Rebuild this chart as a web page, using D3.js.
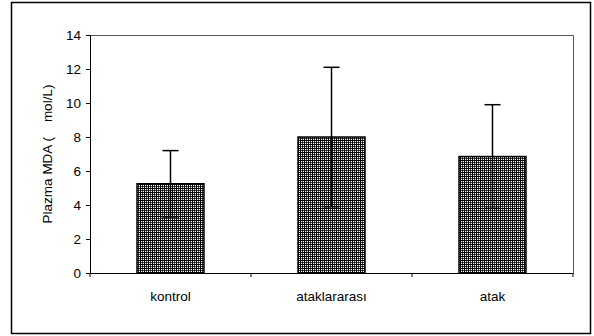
<!DOCTYPE html>
<html>
<head>
<meta charset="utf-8">
<script src="https://cdn.jsdelivr.net/npm/d3@7"></script>
<style>
    body { margin: 0; background: #fff; }
    svg { display: block; font-family: "Liberation Sans", Arial, sans-serif; }
</style>
</head>
<body>
<div id="chart"></div>
<script>
// Chart data
const categories = ['kontrol', 'ataklararası', 'atak'];
const means = [5.25, 8.0, 6.85];
const errors = [1.95, 4.1, 3.05];
const yTicks = [0, 2, 4, 6, 8, 10, 12, 14];

const width = 594;
const height = 336;
const margin = { top: 35, right: 21, bottom: 63, left: 90 };

const svg = d3.select('#chart')
    .append('svg')
    .attr('width', width)
    .attr('height', height);

// Fill pattern for bars
const defs = svg.append('defs');
const pat = defs.append('pattern')
    .attr('id', 'dots')
    .attr('width', 4)
    .attr('height', 4)
    .attr('patternUnits', 'userSpaceOnUse');
pat.append('rect').attr('width', 4).attr('height', 4).attr('fill', '#fff');
pat.append('rect').attr('x', 0).attr('y', 0).attr('width', 4).attr('height', 1).attr('fill', '#000');
pat.append('rect').attr('x', 0).attr('y', 0).attr('width', 1).attr('height', 4).attr('fill', '#000');
pat.append('rect').attr('x', 2).attr('y', 2).attr('width', 1).attr('height', 1).attr('fill', '#000');
[[2, 1], [1, 2], [3, 2], [2, 3]].forEach(p => {
    pat.append('rect').attr('x', p[0]).attr('y', p[1]).attr('width', 1).attr('height', 1).attr('fill', '#444');
});

// Outer border
svg.append('rect')
    .attr('x', 11.5)
    .attr('y', 2.5)
    .attr('width', 579)
    .attr('height', 331)
    .attr('fill', 'none')
    .attr('stroke', '#000')
    .attr('stroke-width', 1.5);

const x = d3.scaleBand()
    .domain(categories)
    .range([margin.left, width - margin.right]);

const y = d3.scaleLinear()
    .domain([0, 14])
    .range([height - margin.bottom, margin.top]);

const x0 = margin.left;
const x1 = width - margin.right;
const yBase = y(0);

// Plot area border (top and right)
svg.append('path')
    .attr('d', `M${x0},${y(14) + 0.5}H${x1 + 0.5}V${yBase}`)
    .attr('fill', 'none')
    .attr('stroke', '#555')
    .attr('stroke-width', 1);

// Bars
const barW = x.bandwidth() * 0.416;
svg.selectAll('rect.bar')
    .data(categories)
    .enter()
    .append('rect')
    .attr('class', 'bar')
    .attr('x', d => x(d) + (x.bandwidth() - barW) / 2)
    .attr('y', (d, i) => y(means[i]))
    .attr('width', barW)
    .attr('height', (d, i) => yBase - y(means[i]))
    .attr('fill', 'url(#dots)')
    .attr('stroke', '#000')
    .attr('stroke-width', 1.5);

// Error bars
const capW = 16;
const err = svg.append('g')
    .attr('stroke', '#000')
    .attr('stroke-width', 1.5);
categories.forEach((c, i) => {
    const cx = x(c) + x.bandwidth() / 2;
    const hi = y(means[i] + errors[i]);
    const lo = y(means[i] - errors[i]);
    err.append('line').attr('x1', cx).attr('x2', cx).attr('y1', hi).attr('y2', lo);
    err.append('line').attr('x1', cx - capW / 2).attr('x2', cx + capW / 2).attr('y1', hi).attr('y2', hi);
    err.append('line').attr('x1', cx - capW / 2).attr('x2', cx + capW / 2).attr('y1', lo).attr('y2', lo);
});

// Y axis
const yAxis = svg.append('g')
    .attr('transform', `translate(${x0}, 0)`)
    .call(d3.axisLeft(y).tickValues(yTicks).tickSize(4).tickSizeOuter(0).tickPadding(5));
yAxis.select('.domain').attr('stroke', '#000');
yAxis.selectAll('line').attr('stroke', '#000');
yAxis.selectAll('text')
    .style('font-size', '13.5px')
    .style('font-family', '"Liberation Sans", Arial, sans-serif')
    .attr('fill', '#000');

// X axis
const xAxis = svg.append('g')
    .attr('transform', `translate(0, ${yBase})`)
    .call(d3.axisBottom(x).tickSize(0).tickSizeOuter(0).tickPadding(18));
xAxis.select('.domain').attr('stroke', '#000');
xAxis.selectAll('text')
    .style('font-size', '13.5px')
    .style('font-family', '"Liberation Sans", Arial, sans-serif')
    .attr('fill', '#000');

// Category boundary ticks
const bounds = categories.map(c => x(c)).concat([x1]);
xAxis.selectAll('line.bound')
    .data(bounds)
    .enter()
    .append('line')
    .attr('class', 'bound')
    .attr('x1', d => d)
    .attr('x2', d => d)
    .attr('y1', 0)
    .attr('y2', 4)
    .attr('stroke', '#000');

// Y axis label
svg.append('text')
    .attr('transform', `translate(52, ${(y(0) + y(14)) / 2}) rotate(-90)`)
    .attr('text-anchor', 'middle')
    .style('font-size', '13.5px')
    .style('white-space', 'pre')
    .attr('fill', '#000')
    .text('Plazma MDA (    mol/L)');
</script>
</body>
</html>
